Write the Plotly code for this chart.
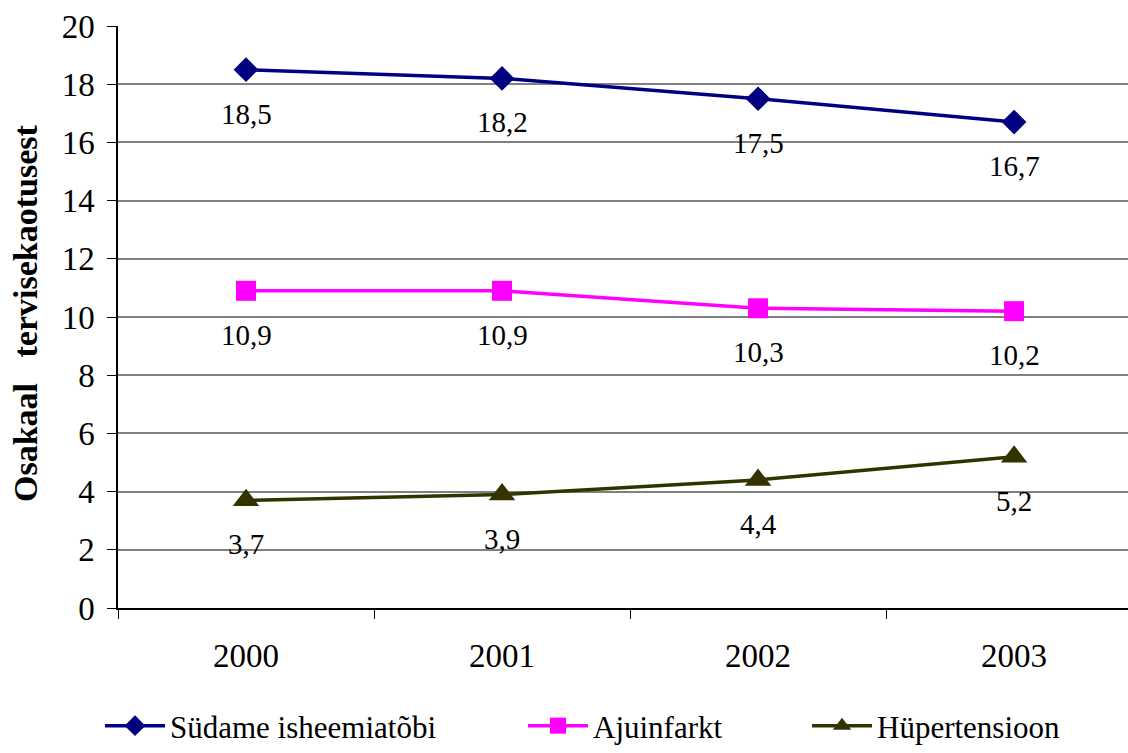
import plotly.graph_objects as go

years = ["2000", "2001", "2002", "2003"]
ischemic = [18.5, 18.2, 17.5, 16.7]
stroke = [10.9, 10.9, 10.3, 10.2]
hypertension = [3.7, 3.9, 4.4, 5.2]

names = ["Südame isheemiatõbi", "Ajuinfarkt", "Hüpertensioon"]
colors = ["#000080", "#FF00FF", "#333300"]
symbols = ["diamond", "square", "triangle-up"]
sizes = [19, 20, 23]
series = [ischemic, stroke, hypertension]

FONT = "Liberation Serif, Times New Roman, serif"

fig = go.Figure()
legend_ids = ["legend", "legend2", "legend3"]
for vals, name, col, sym, sz, lg in zip(series, names, colors, symbols, sizes, legend_ids):
    fig.add_trace(go.Scatter(
        x=years, y=vals, name=name, mode="lines+markers",
        line=dict(color=col, width=3.5),
        marker=dict(symbol=sym, size=sz, color=col),
        legend=lg,
    ))
    # value labels under each point (category index positions)
    for i, yv in enumerate(vals):
        fig.add_annotation(
            x=i, y=yv, text=f"{yv:.1f}".replace(".", ","),
            showarrow=False, yshift=-44,
            font=dict(family=FONT, size=29, color="black"),
        )

# y-axis caption
fig.add_annotation(
    xref="paper", yref="paper", x=0, y=0.5, xshift=-93, yshift=4,
    xanchor="center", yanchor="middle",
    text="Osakaal\u00a0\u00a0\u00a0tervisekaotusest",
    textangle=-90, showarrow=False,
    font=dict(family=FONT, size=34, color="black", weight="bold"),
)

# one legend per series so each entry can sit at its own position
leg_common = dict(
    orientation="h", yref="container", y=0, yanchor="bottom",
    xanchor="left", itemwidth=60, bgcolor="rgba(0,0,0,0)",
    font=dict(family=FONT, size=31, color="black"),
)
fig.update_layout(
    legend=dict(x=(100 - 118) / 1010, **leg_common),
    legend2=dict(x=(523 - 118) / 1010, **leg_common),
    legend3=dict(x=(807 - 118) / 1010, **leg_common),
)

fig.update_layout(
    width=1128, height=753,
    margin=dict(l=118, r=0, t=26, b=145, autoexpand=False),
    plot_bgcolor="white", paper_bgcolor="white",
    showlegend=True,
    font=dict(family=FONT, size=33, color="black"),
)
fig.update_xaxes(
    type="category", range=[-0.5, 3.445], automargin=False,
    tickson="boundaries", ticks="outside", ticklen=9, tickcolor="black",
    showline=True, linecolor="black", linewidth=1.5,
    showgrid=False, ticklabelstandoff=18,
    tickfont=dict(family=FONT, size=33, color="black"),
)
fig.update_yaxes(
    range=[0, 20], dtick=2, tick0=0, automargin=False,
    ticks="outside", ticklen=9, tickcolor="black",
    showline=True, linecolor="black", linewidth=1.5,
    showgrid=True, gridcolor="#808080", gridwidth=1.5,
    zeroline=False, ticklabelstandoff=6,
    tickfont=dict(family=FONT, size=33, color="black"),
)

fig.write_html("out.html")
